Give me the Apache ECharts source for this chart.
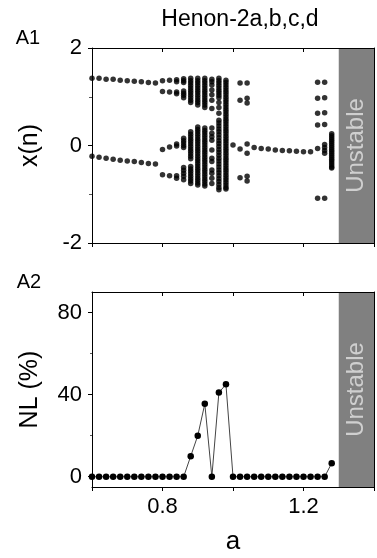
<!DOCTYPE html>
<html><head><meta charset="utf-8">
<script src="https://cdn.jsdelivr.net/npm/echarts@6/dist/echarts.min.js"></script>
<style>html,body{margin:0;padding:0;background:#fff}#c{width:377px;height:558px}</style>
</head><body><div id="c"></div>
<script>
// ---- data ----
const titleText = 'Henon-2a,b,c,d';
const panelLabels = ['A1', 'A2'];
const xTickLabels = ['0.8', '1.2'];
const y1TickLabels = [-2, 0, 2];
const y2TickLabels = [0, 40, 80];
const unstableFrom = 1.3, unstableTo = 1.4;

// Bifurcation diagram: parameter a, and the x(n) values seen at each a
const bifA = [0.60,0.62,0.64,0.66,0.68,0.70,0.72,0.74,0.76,0.78,0.80,0.82,0.84,0.86,0.88,0.90,0.92,0.94,0.96,0.98,1.00,1.02,1.04,1.06,1.08,1.10,1.12,1.14,1.16,1.18,1.20,1.22,1.24,1.26,1.28];
const bifX = [
  [1.38,-0.22],
  [1.38,-0.24],
  [1.36,-0.26],
  [1.36,-0.28],
  [1.34,-0.30],
  [1.33,-0.32],
  [1.32,-0.33],
  [1.31,-0.35],
  [1.29,-0.37],
  [1.28,-0.38],
  [1.33,1.11,-0.08,-0.60],
  [1.34,1.10,-0.03,-0.62],
  [1.35,1.31,1.10,1.06,0.03,-0.01,-0.62,-0.67],
  [1.37,1.33,1.29,1.12,1.07,1.03,0.98,0.15,0.10,0.05,0.00,-0.04,-0.45,-0.51,-0.57,-0.63,-0.70],
  [1.38,1.33,1.28,1.23,1.18,1.13,1.08,1.03,0.98,0.93,0.88,0.28,0.23,0.18,0.13,0.08,0.03,-0.02,-0.07,-0.12,-0.17,-0.22,-0.27,-0.43,-0.48,-0.53,-0.58,-0.63,-0.68,-0.73,-0.78],
  [1.38,1.33,1.28,1.23,1.18,1.13,1.08,1.03,0.98,0.93,0.88,0.83,0.38,0.33,0.28,0.23,0.18,0.13,0.08,0.03,-0.02,-0.07,-0.12,-0.17,-0.22,-0.27,-0.32,-0.37,-0.42,-0.47,-0.52,-0.57,-0.62,-0.67,-0.72,-0.77,-0.81],
  [1.38,1.33,1.28,1.23,1.18,1.13,1.08,1.03,0.98,0.93,0.88,0.83,0.78,0.36,0.31,0.26,0.21,0.16,0.11,0.06,0.01,-0.04,-0.09,-0.14,-0.19,-0.24,-0.29,-0.34,-0.39,-0.44,-0.49,-0.54,-0.59,-0.64,-0.69,-0.74,-0.79,-0.83],
  [1.36,1.31,1.24,1.14,1.04,0.93,0.76,0.36,0.25,0.18,0.11,-0.09,-0.26,-0.33,-0.50,-0.57,-0.67,-0.78],
  [1.38,1.33,1.28,1.23,1.18,1.13,1.08,1.03,0.98,0.88,0.78,0.66,0.52,0.46,0.40,0.34,0.28,0.22,0.16,0.10,0.04,-0.02,-0.08,-0.14,-0.20,-0.26,-0.32,-0.38,-0.44,-0.50,-0.56,-0.62,-0.68,-0.74,-0.80,-0.86,-0.91],
  [1.34,1.29,1.24,1.19,1.14,1.09,1.04,0.99,0.94,0.89,0.84,0.79,0.74,0.69,0.64,0.59,0.54,0.49,0.44,0.39,0.34,0.29,0.24,0.19,0.14,0.09,0.04,-0.01,-0.06,-0.11,-0.16,-0.21,-0.26,-0.31,-0.36,-0.41,-0.46,-0.51,-0.56,-0.61,-0.66,-0.71,-0.76,-0.81,-0.86,-0.89],
  [0.01],
  [1.28,0.93,-0.07,-0.66],
  [1.28,0.97,0.87,0.03,-0.16,-0.63,-0.73],
  [-0.04],
  [-0.06],
  [-0.07],
  [-0.09],
  [-0.10],
  [-0.11],
  [-0.12],
  [-0.13],
  [-0.13],
  [1.30,0.97,0.66,0.42,-0.06,-1.08],
  [1.30,0.98,0.67,0.43,0.02,-0.04,-0.10,-0.16,-1.08],
  [0.24,0.20,0.16,0.12,0.08,0.04,0.00,-0.04,-0.08,-0.12,-0.16,-0.20,-0.24,-0.28,-0.32,-0.36,-0.40,-0.44,-0.46]
];

// NL (%) versus a
const nlA = [0.60,0.62,0.64,0.66,0.68,0.70,0.72,0.74,0.76,0.78,0.80,0.82,0.84,0.86,0.88,0.90,0.92,0.94,0.96,0.98,1.00,1.02,1.04,1.06,1.08,1.10,1.12,1.14,1.16,1.18,1.20,1.22,1.24,1.26,1.28];
const nlValues = [0,0,0,0,0,0,0,0,0,0,0,0,0,0,10,20,35.5,0,41,45,0,0,0,0,0,0,0,0,0,0,0,0,0,0,6.6];

// ---- build ----
const scatterData = [];
bifA.forEach((a, i) => bifX[i].forEach(x => scatterData.push([a, x])));
const lineData = nlA.map((a, i) => [a, nlValues[i]]);

const FONT = 'Liberation Sans, Arial, sans-serif';
const black = '#000';
const chart = echarts.init(document.getElementById('c'), null, {renderer: 'canvas'});

function xAx(grid, pos, labels, extra) {
  return Object.assign({
    type: 'value', gridIndex: grid, position: pos, min: 0.6, max: 1.4, interval: 0.2, z: 10,
    axisLine: {show: true, onZero: false, lineStyle: {color: black, width: 1}},
    axisTick: {show: true, inside: pos === 'top', length: 4, lineStyle: {color: black}},
    axisLabel: {show: labels, margin: 9, fontSize: 22, color: black, fontFamily: FONT,
      formatter: v => { const s = v.toFixed(1); return xTickLabels.indexOf(s) >= 0 ? s : ''; }},
    splitLine: {show: false}
  }, extra || {});
}
const rightY = (grid, min, max) => ({
  type: 'value', gridIndex: grid, position: 'right', min, max, z: 10,
  axisLine: {show: true, onZero: false, lineStyle: {color: black, width: 1}},
  axisTick: {show: false}, axisLabel: {show: false}, splitLine: {show: false}
});

const option = {
  animation: false,
  textStyle: {fontFamily: FONT},
  grid: [
    {left: 92, top: 48, width: 282, height: 195},
    {left: 92, top: 292, width: 282, height: 195}
  ],
  xAxis: [
    xAx(0, 'bottom', false),
    xAx(0, 'top', false),
    xAx(1, 'bottom', true, {name: 'a', nameLocation: 'middle', nameGap: 42,
      nameTextStyle: {fontSize: 26, color: black, fontFamily: FONT}}),
    xAx(1, 'top', false)
  ],
  yAxis: [
    {type: 'value', gridIndex: 0, min: -2, max: 2, interval: 2, z: 10,
      name: 'x(n)', nameLocation: 'middle', nameGap: 49,
      nameTextStyle: {fontSize: 25, color: black, fontFamily: FONT},
      axisLine: {show: true, onZero: false, lineStyle: {color: black}},
      axisTick: {show: true, length: 4, lineStyle: {color: black}},
      minorTick: {show: true, splitNumber: 2, length: 3, lineStyle: {color: '#555'}},
      axisLabel: {margin: 10, fontSize: 22, color: black, fontFamily: FONT,
        formatter: v => y1TickLabels.indexOf(v) >= 0 ? String(v) : ''},
      splitLine: {show: false}, minorSplitLine: {show: false}},
    rightY(0, -2, 2),
    {type: 'value', gridIndex: 1, min: -5, max: 90, z: 10,
      name: 'NL (%)', nameLocation: 'middle', nameGap: 49,
      nameTextStyle: {fontSize: 25, color: black, fontFamily: FONT},
      axisLine: {show: true, onZero: false, lineStyle: {color: black}},
      axisTick: {show: true, length: 4, customValues: y2TickLabels, lineStyle: {color: black}},
      axisLabel: {margin: 10, fontSize: 22, color: black, fontFamily: FONT, customValues: y2TickLabels},
      splitLine: {show: false}},
    rightY(1, -5, 90),
    {type: 'value', gridIndex: 1, min: -5, max: 90, position: 'left', z: 10,
      axisLine: {show: false},
      axisTick: {show: true, length: 2, customValues: [20, 60], lineStyle: {color: '#555'}},
      axisLabel: {show: false}, splitLine: {show: false}}
  ],
  graphic: [
    {type: 'text', x: 240, y: 20, style: {text: titleText, font: '23px ' + FONT, fill: black, textAlign: 'center', textVerticalAlign: 'middle'}},
    {type: 'text', x: 28, y: 38, style: {text: panelLabels[0], font: '20px ' + FONT, fill: black, textAlign: 'center', textVerticalAlign: 'middle'}},
    {type: 'text', x: 29, y: 282, style: {text: panelLabels[1], font: '20px ' + FONT, fill: black, textAlign: 'center', textVerticalAlign: 'middle'}}
  ],
  series: [
    {type: 'scatter', xAxisIndex: 0, yAxisIndex: 0, data: scatterData, symbol: 'circle', symbolSize: 5.5,
      itemStyle: {color: black}, silent: true,
      markArea: {silent: true, itemStyle: {color: '#808080', opacity: 1},
        label: {show: true, position: 'inside', rotate: 90, formatter: 'Unstable', color: '#cfcfcf', fontSize: 24, fontFamily: FONT},
        data: [[{xAxis: unstableFrom}, {xAxis: unstableTo}]]}},
    {type: 'line', xAxisIndex: 2, yAxisIndex: 2, data: lineData, symbol: 'circle', symbolSize: 6.5,
      lineStyle: {color: '#444', width: 1}, itemStyle: {color: black}, silent: true,
      markArea: {silent: true, itemStyle: {color: '#808080', opacity: 1},
        label: {show: true, position: 'inside', rotate: 90, formatter: 'Unstable', color: '#cfcfcf', fontSize: 24, fontFamily: FONT},
        data: [[{xAxis: unstableFrom}, {xAxis: unstableTo}]]}}
  ]
};
chart.setOption(option);
</script></body></html>
